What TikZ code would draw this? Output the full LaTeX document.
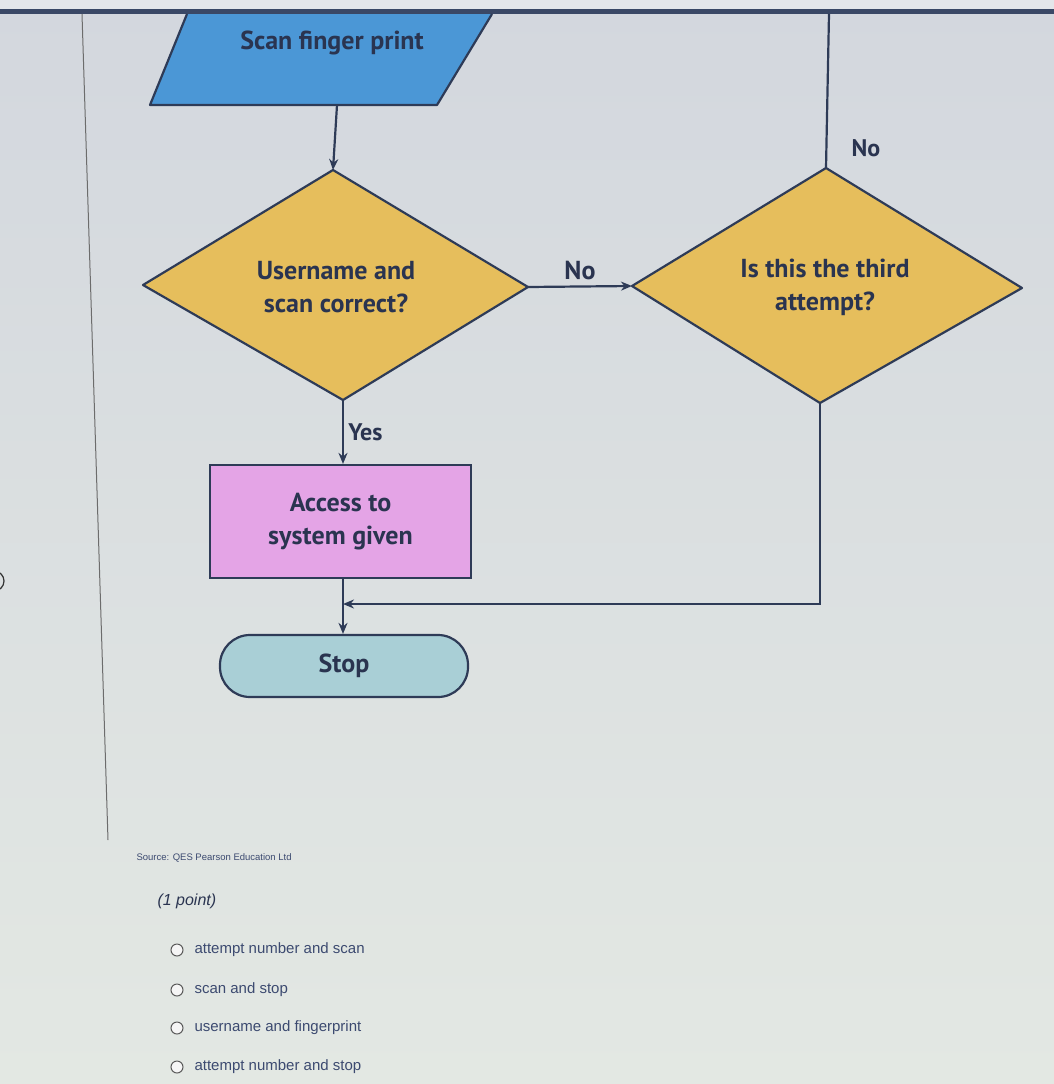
\documentclass[tikz,border=0pt]{standalone}
\usepackage{fontspec}
\setmainfont{PT Sans}
\newfontfamily\optfont{Liberation Sans}
\usetikzlibrary{arrows.meta}
\definecolor{bgtop}{HTML}{D3D7DE}
\definecolor{bgbot}{HTML}{E3E8E3}
\definecolor{strip}{HTML}{E4E6EA}
\definecolor{bar}{HTML}{3A4866}
\definecolor{lineC}{HTML}{2E3B57}
\definecolor{txtC}{HTML}{2A3450}
\definecolor{blueF}{HTML}{4B97D6}
\definecolor{goldF}{HTML}{E6BE5C}
\definecolor{pinkF}{HTML}{E4A4E6}
\definecolor{tealF}{HTML}{A9CFD6}
\definecolor{optC}{HTML}{3C4A70}
\tikzset{
  shapeline/.style={draw=lineC, line width=2.2pt, line join=round},
  conn/.style={draw=lineC, line width=2.2pt},
  arr/.style={conn, -{Stealth[length=11pt,width=9pt]}},
  lbl/.style={font=\fontsize{26}{33}\selectfont\bfseries, text=txtC, align=center},
  opt/.style={font=\optfont\fontsize{15}{18}\selectfont, text=optC, anchor=west},
  radio/.style={draw=gray!70!black, line width=1pt, fill=white!92!gray}
}
\begin{document}
\begin{tikzpicture}[x=1pt,y=-1pt]
\useasboundingbox (0,0) rectangle (1054,1084);
\shade[top color=bgtop, bottom color=bgbot] (0,0) rectangle (1054,1084);
\fill[strip] (0,0) rectangle (1054,9);
\fill[bar] (0,9) rectangle (1054,14);
% thin vertical page line
\draw[gray!85!black, line width=1pt] (82,14) -- (108,840);
% partial circle at left edge
\draw[black!80, line width=1.2pt] (-6,591) arc[start angle=90, end angle=-90, radius=10];

% Scan finger print (parallelogram)
\fill[blueF] (187,14) -- (492,14) -- (437,105) -- (150,105) -- cycle;
\draw[shapeline] (187,14) -- (150,105) -- (437,105) -- (492,14);
\node[lbl] (scan) at (332,43) {Scan finger print};
\coordinate (scanB) at (337,105);

% Diamond 1
\coordinate (d1T) at (333,170);
\coordinate (d1L) at (143,285);
\coordinate (d1R) at (528,287);
\coordinate (d1B) at (343,400);
\draw[shapeline, fill=goldF] (d1T) -- (d1R) -- (d1B) -- (d1L) -- cycle;
\node[lbl] (d1) at (336,287) {Username and\\scan correct?};

% Diamond 2
\coordinate (d2T) at (826,168);
\coordinate (d2L) at (632,286);
\coordinate (d2R) at (1022,288);
\coordinate (d2B) at (820,403);
\draw[shapeline, fill=goldF] (d2T) -- (d2R) -- (d2B) -- (d2L) -- cycle;
\node[lbl] (d2) at (825,287) {Is this the third\\attempt?};

% Access box
\node[draw=lineC, line width=2.2pt, fill=pinkF, minimum width=261pt, minimum height=113pt, lbl] (acc) at (340.5,521.5) {Access to\\system given};

% Stop
\node[draw=lineC, line width=2.2pt, fill=tealF, rounded corners=30pt, minimum width=248pt, minimum height=62pt, lbl] (stop) at (344,666) {Stop};

% connectors
\draw[arr] (scanB) -- (d1T);
\draw[arr] (d1R) -- node[lbl, above=2pt] (no1) {No} (d2L);
\coordinate (topR) at (829,14);
\draw[conn] (d2T) -- (topR);
\node[lbl, font=\fontsize{24}{28}\selectfont\bfseries] (no2) at (866,148) {No};
\draw[arr] (d1B) -- node[lbl, right=1pt, font=\fontsize{24}{28}\selectfont\bfseries] (yes) {Yes} (acc.north -| d1B);
\coordinate (join) at (343,604);
\draw[arr] (acc.south -| join) -- (stop.north -| join);
\draw[arr] (d2B) -- (820,604) -- (join);

% text below
\node[font=\optfont\fontsize{9.5}{11}\selectfont, text=optC, anchor=west] (src) at (133,858) {Source: QES Pearson Education Ltd};
\node[font=\optfont\itshape\fontsize{16}{19}\selectfont, text=txtC, anchor=west] (pt) at (154,901) {(1 point)};
\foreach \y/\t [count=\i] in {950/attempt number and scan, 990/scan and stop, 1028/username and fingerprint, 1067/attempt number and stop}{
  \node[radio, circle, minimum size=12pt, inner sep=0pt] (r\i) at (177,\y) {};
  \node[opt] (o\i) at (191,\y) {\t};
}
\end{tikzpicture}
\end{document}
